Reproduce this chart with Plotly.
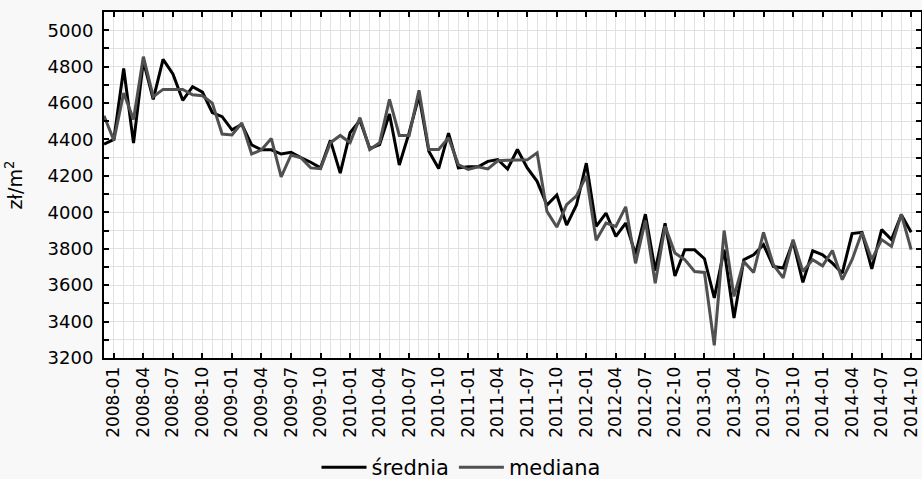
import plotly.graph_objects as go

# Monthly categories (first point sits one month before the first tick label)
months = ["2007-12"] + [f"{y}-{m:02d}" for y in range(2008, 2015) for m in range(1, 13)]
months = months[: months.index("2014-10") + 1]

srednia = [4375, 4400, 4790, 4380, 4830, 4620, 4840, 4760, 4615, 4690,
           4660, 4548, 4525, 4453, 4483, 4370, 4343, 4343, 4320, 4330,
           4300, 4275, 4244, 4395, 4215, 4437, 4505, 4350, 4372, 4540,
           4260, 4437, 4640, 4336, 4240, 4435, 4244, 4250, 4250, 4280,
           4290, 4238, 4345, 4244, 4170, 4040, 4095, 3930, 4040, 4270,
           3923, 3996, 3868, 3941, 3770, 3990, 3680, 3940, 3650, 3794,
           3794, 3745, 3530, 3795, 3420, 3740, 3767, 3822, 3703, 3694,
           3840, 3615, 3789, 3767, 3721, 3666, 3883, 3890, 3690, 3905,
           3850, 3987, 3890]

mediana = [4530, 4395, 4655, 4510, 4855, 4635, 4675, 4675, 4675, 4645,
           4640, 4600, 4430, 4425, 4490, 4320, 4343, 4405, 4195, 4315,
           4300, 4244, 4240, 4382, 4422, 4382, 4520, 4345, 4382, 4620,
           4422, 4422, 4670, 4345, 4345, 4410, 4262, 4235, 4250, 4238,
           4283, 4286, 4286, 4288, 4327, 4005, 3919, 4042, 4090, 4200,
           3846, 3941, 3923, 4030, 3720, 3955, 3610, 3923, 3776, 3740,
           3675, 3670, 3270, 3900, 3538, 3730, 3670, 3890, 3712, 3640,
           3850, 3675, 3740, 3706, 3790, 3630, 3740, 3890, 3740, 3850,
           3813, 3990, 3795]

tick_labels = [m for m in months if m[5:] in ("01", "04", "07", "10")]

x = list(range(len(months)))
tickvals = [months.index(t) for t in tick_labels]

FONT = "DejaVu Sans"

fig = go.Figure()
fig.add_trace(go.Scatter(x=x, y=srednia, mode="lines", name="średnia",
                         line=dict(color="#000000", width=3)))
fig.add_trace(go.Scatter(x=x, y=mediana, mode="lines", name="mediana",
                         line=dict(color="#505050", width=3)))

grid = "#e2e2e2"
fig.update_layout(
    width=922, height=479,
    margin=dict(l=104, r=1, t=12, b=121, autoexpand=False),
    paper_bgcolor="#f8f8f8",
    plot_bgcolor="#ffffff",
    font=dict(family=FONT, size=17, color="#000000"),
    showlegend=True,
    legend=dict(orientation="h", xref="container", yref="container",
                x=0.5, xanchor="center", y=0.024, yanchor="middle",
                bgcolor="rgba(0,0,0,0)", font=dict(size=21), itemwidth=45,
                traceorder="normal"),
    xaxis=dict(
        range=[0, len(months)],
        tickmode="array", tickvals=tickvals, ticktext=tick_labels,
        tickangle=-90, tickfont=dict(size=17),
        ticks="inside", ticklen=5, tickwidth=1.5, tickcolor="#000000",
        showline=True, linecolor="#000000", linewidth=2, mirror="ticks",
        showgrid=True, gridcolor=grid, gridwidth=1,
        minor=dict(tickmode="linear", tick0=0, dtick=1, showgrid=True,
                   gridcolor=grid, gridwidth=1, ticks=""),
        zeroline=False,
    ),
    yaxis=dict(
        range=[3200, 5100],
        tickmode="linear", tick0=3200, dtick=200,
        tickfont=dict(size=18), ticklabelstandoff=5,
        ticks="inside", ticklen=5, tickwidth=1.5, tickcolor="#000000",
        showline=True, linecolor="#000000", linewidth=2, mirror="ticks",
        showgrid=True, gridcolor=grid, gridwidth=1,
        minor=dict(tickmode="linear", tick0=3200, dtick=100, showgrid=True,
                   gridcolor=grid, gridwidth=1, ticks="inside", ticklen=5,
                   tickcolor="#000000"),
        zeroline=False,
        title=dict(text="zł/m<sup>2</sup>", font=dict(size=19), standoff=20),
    ),
)

fig.write_html("out.html", config={"displayModeBar": False},
               post_script="document.body.style.margin='0px';")
